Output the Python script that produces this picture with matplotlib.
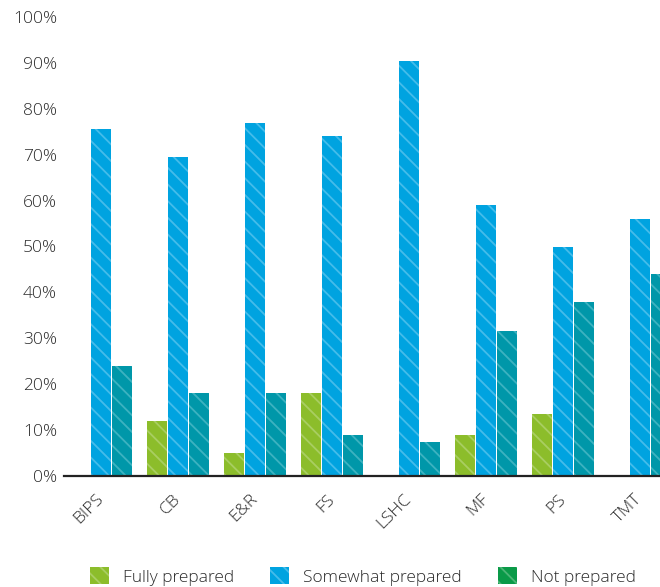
import matplotlib
matplotlib.use("Agg")
import matplotlib.pyplot as plt
from matplotlib.patches import Patch
import numpy as np

plt.rcParams['font.family'] = ['Open Sans', 'DejaVu Sans']
plt.rcParams['hatch.linewidth'] = 1.3

categories = ["BIPS", "CB", "E&R", "FS", "LSHC", "MF", "PS", "TMT"]
fully = [0, 12, 5, 18, 0, 9, 13.5, 0]
somewhat = [75.5, 69.5, 77, 74, 90.5, 59, 50, 56]
not_prep = [24, 18, 18, 9, 7.5, 31.5, 38, 44]
series_names = ["Fully prepared", "Somewhat prepared", "Not prepared"]

bar_colors = ["#8CBD2B", "#00A3E0", "#0097A9"]
stripe_colors = ["#A9CE62", "#45BCEA", "#3DB2C0"]
legend_colors = ["#8CBD2B", "#00A3E0", "#0A9A48"]
legend_stripes = ["#A9CE62", "#45BCEA", "#4CB576"]

fig = plt.figure(figsize=(6.6, 5.87), dpi=100)
ax = fig.add_axes([64/660, (587-476)/587, 1 - 64/660, (476-17)/587])

x = np.arange(len(categories))
stride = 21/77
width = 20/77
for i, vals in enumerate([fully, somewhat, not_prep]):
    ax.bar(x + (i - 1) * stride, vals, width, color=bar_colors[i],
           edgecolor=stripe_colors[i], linewidth=0, hatch='\\\\')

ax.set_xlim(-0.48, 7.26)
ax.set_ylim(0, 100)
ax.set_yticks(np.arange(0, 101, 10))
ax.set_yticklabels([f"{v}%" for v in range(0, 101, 10)])
ax.set_xticks(x)
ax.set_xticklabels(categories, rotation=45, ha='right', va='center',
                   rotation_mode='anchor')
ax.tick_params(axis='both', length=0, labelsize=12.5, colors='#2a2a2a')
ax.tick_params(axis='x', pad=15)
ax.tick_params(axis='y', pad=5)
for lab in ax.get_xticklabels() + ax.get_yticklabels():
    lab.set_fontweight('light')
for s in ['top', 'right', 'left']:
    ax.spines[s].set_visible(False)
ax.spines['bottom'].set_color('#222222')
ax.spines['bottom'].set_linewidth(1.6)

handles = [Patch(facecolor=legend_colors[i], edgecolor=legend_stripes[i],
                 linewidth=0, hatch='\\\\', label=series_names[i])
           for i in range(3)]
leg = fig.legend(handles=handles, loc='center', bbox_to_anchor=(0.55, 0.018),
                 ncol=3, frameon=False, handlelength=1.1,
                 handleheight=1.1, handletextpad=0.8, columnspacing=2.1,
                 labelcolor='#2a2a2a', prop={'size': 12.5, 'weight': 'light'})

fig.savefig("out.png", dpi=100)
